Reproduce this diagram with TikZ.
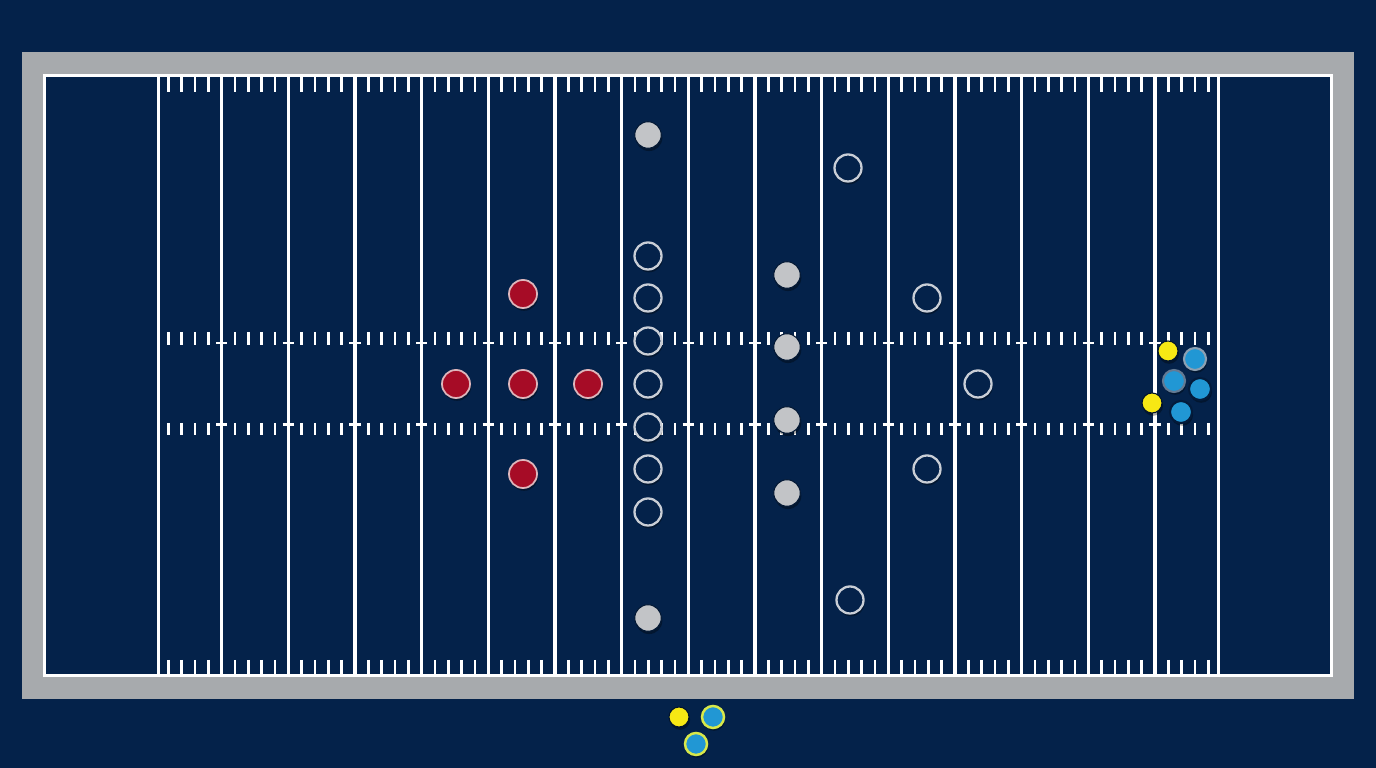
\documentclass[tikz,border=0pt]{standalone}
\usetikzlibrary{shadows}
\definecolor{navy}{RGB}{4,34,74}
\definecolor{framegrey}{RGB}{167,170,173}
\definecolor{pgrey}{RGB}{194,196,199}
\definecolor{pring}{RGB}{201,206,214}
\definecolor{pred}{RGB}{166,12,38}
\definecolor{predring}{RGB}{222,182,188}
\definecolor{pyellow}{RGB}{247,232,20}
\definecolor{pblue}{RGB}{33,151,212}
\definecolor{bluering}{RGB}{140,160,178}
\definecolor{lime}{RGB}{216,232,74}
\begin{document}
\begin{tikzpicture}[x=0.01cm,y=-0.01cm,
  fieldline/.style={draw=white,line width=1pt},
  tick/.style={draw=white,line width=0.8pt},
  shad/.style={drop shadow={shadow xshift=0.3pt,shadow yshift=-0.8pt,opacity=0.35,fill=black}},
  player/.style={circle,inner sep=0pt,shad},
  greyp/.style={player,minimum size=0.265cm,fill=pgrey,draw=navy!70!black,line width=0.3pt},
  hollow/.style={player,minimum size=0.27cm,fill=navy,draw=pring,line width=0.65pt},
  redp/.style={player,minimum size=0.28cm,fill=pred,draw=predring,line width=0.5pt},
  yellowp/.style={player,minimum size=0.2cm,fill=pyellow,draw=navy!60!black,line width=0.3pt},
  bluep/.style={player,minimum size=0.22cm,fill=pblue,draw=#1,line width=0.6pt},
  bluep/.default=navy!80!black,
  limep/.style={player,minimum size=0.22cm,fill=pblue,draw=lime,line width=0.7pt}
]
\useasboundingbox (0,0) rectangle (1376,768);
\fill[navy] (0,0) rectangle (1376,768);
\fill[framegrey] (22,52) rectangle (1354,699);
\fill[navy] (44.5,75.5) rectangle (1331.5,675.5);
\draw[fieldline] (44.5,75.5) rectangle (1331.5,675.5);
% goal lines
\draw[fieldline] (158.5,75.5) -- (158.5,675.5);
\draw[fieldline] (1218.5,75.5) -- (1218.5,675.5);
% yard lines and hash crosses
\foreach \k in {0,...,14}{
  \draw[fieldline] ({221.7+66.667*\k},75.5) -- ({221.7+66.667*\k},675.5);
  \draw[tick] ({216+66.667*\k},343) -- ({227.4+66.667*\k},343);
  \draw[tick] ({216+66.667*\k},424.5) -- ({227.4+66.667*\k},424.5);
}
% ticks
\foreach \m in {-4,...,74}{
  \pgfmathtruncatemacro\r{mod(\m+100,5)}
  \ifnum\r=0\relax\else
    \draw[tick] ({221.7+13.333*\m},77) -- ({221.7+13.333*\m},92);
    \draw[tick] ({221.7+13.333*\m},660) -- ({221.7+13.333*\m},674);
    \draw[tick] ({221.7+13.333*\m},332) -- ({221.7+13.333*\m},345);
    \draw[tick] ({221.7+13.333*\m},423) -- ({221.7+13.333*\m},435);
  \fi
}
% grey players
\node[greyp] (g1) at (648,135) {};
\node[greyp] (g2) at (787,275) {};
\node[greyp] (g3) at (787,347) {};
\node[greyp] (g4) at (787,420) {};
\node[greyp] (g5) at (787,493) {};
\node[greyp] (g6) at (648,618) {};
% hollow players
\node[hollow] (h1) at (848,168) {};
\node[hollow] (h2) at (648,256) {};
\node[hollow] (h3) at (648,298) {};
\node[hollow] (h4) at (648,341) {};
\node[hollow] (h5) at (648,384) {};
\node[hollow] (h6) at (648,427) {};
\node[hollow] (h7) at (648,469) {};
\node[hollow] (h8) at (648,512) {};
\node[hollow] (h9) at (927,298) {};
\node[hollow] (h10) at (978,384) {};
\node[hollow] (h11) at (927,469) {};
\node[hollow] (h12) at (850,600) {};
% red players
\node[redp] (r1) at (523,294) {};
\node[redp] (r2) at (456,384) {};
\node[redp] (r3) at (523,384) {};
\node[redp] (r4) at (588,384) {};
\node[redp] (r5) at (523,474) {};
% right cluster
\node[yellowp] (y1) at (1168,351) {};
\node[yellowp] (y2) at (1152,403) {};
\node[bluep=bluering] (b1) at (1195,359) {};
\node[bluep=bluering!70!navy] (b2) at (1174,381) {};
\node[bluep] (b3) at (1200,389) {};
\node[bluep] (b4) at (1181,412) {};
% bottom cluster
\node[yellowp] (y3) at (679,717) {};
\node[limep] (b5) at (713,717) {};
\node[limep] (b6) at (696,744) {};
\end{tikzpicture}
\end{document}
